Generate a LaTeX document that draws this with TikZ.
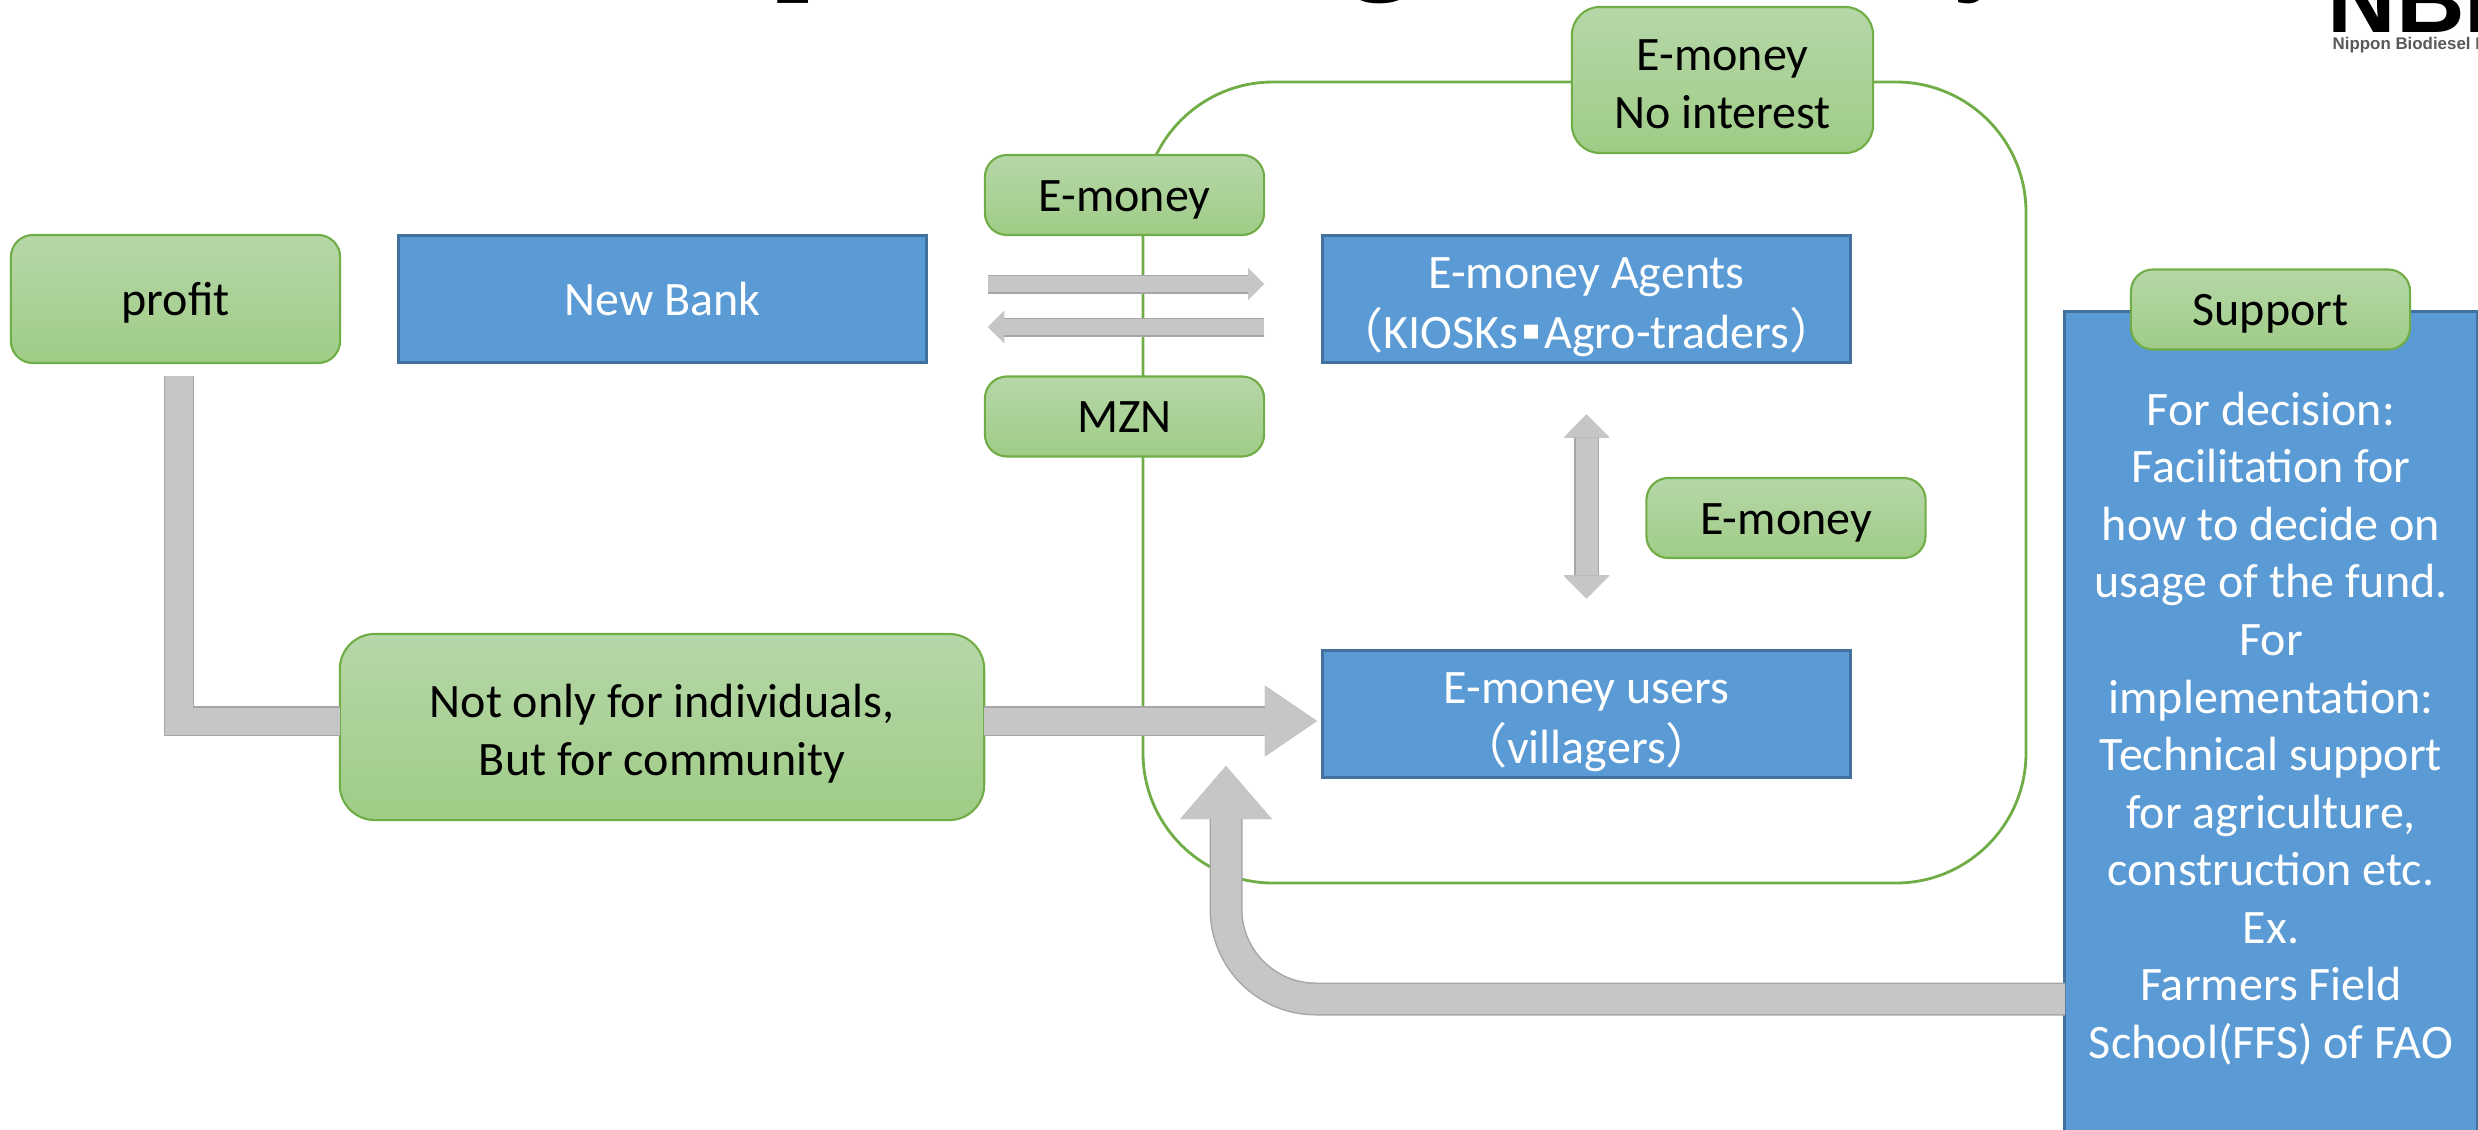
\documentclass[tikz,border=0pt]{standalone}
\usepackage{fontspec}
\usepackage{tikz}
\usetikzlibrary{arrows.meta}
\setmainfont{Carlito}
\newfontfamily\cjk{Noto Sans CJK JP}
\newfontfamily\titlefont{Liberation Serif}
\newfontfamily\logofont{Liberation Sans}
\newfontfamily\symfont{DejaVu Sans}
\newcommand{\firstline}{\rule{0pt}{0.535cm}}

\definecolor{greentop}{HTML}{B6D7A8}
\definecolor{greenbot}{HTML}{9FCC86}
\definecolor{greenline}{HTML}{70AD47}
\definecolor{bluefill}{HTML}{5B9BD5}
\definecolor{blueline}{HTML}{41719C}
\definecolor{arrowfill}{HTML}{C6C6C6}
\definecolor{arrowedge}{HTML}{A6A6A6}

\tikzset{
  bodytext/.style={font=\fontsize{13.66}{16.36}\selectfont, align=center, inner sep=0, outer sep=0,
    execute at begin node={\rule{0pt}{0.47cm}}, execute at end node={\rule[-0.15cm]{0pt}{0.15cm}}},
  greenbox/.style={bodytext, draw=greenline, line width=0.6pt, top color=greentop, bottom color=greenbot,
    rounded corners=0.22cm, minimum width=2.79cm, minimum height=0.8cm},
  bluebox/.style={bodytext, draw=blueline, line width=0.8pt, fill=bluefill, text=white,
    minimum width=5.28cm, minimum height=1.27cm},
  blockline/.style={draw=arrowfill, line width=#1, preaction={draw=arrowedge, line width=#1+0.03cm}},
  blockarrow/.style n args={3}{draw=arrowfill, line width=#1, -{Triangle[length=#2,width=#3,color=arrowfill,fill=arrowfill,line width=0pt]},
    preaction={draw=arrowedge, line width=#1+0.03cm, -{Triangle[length=#2,width=#3,color=arrowedge,fill=arrowedge,line width=0.03cm]}}},
  blockboth/.style n args={3}{draw=arrowfill, line width=#1,
    {Triangle[length=#2,width=#3,color=arrowfill,fill=arrowfill,line width=0pt]}-{Triangle[length=#2,width=#3,color=arrowfill,fill=arrowfill,line width=0pt]},
    preaction={draw=arrowedge, line width=#1+0.03cm,
    {Triangle[length=#2,width=#3,color=arrowedge,fill=arrowedge,line width=0.03cm]}-{Triangle[length=#2,width=#3,color=arrowedge,fill=arrowedge,line width=0.03cm]}}},
  titlebit/.style={font=\titlefont\fontsize{40}{40}\selectfont, anchor=base, inner sep=0}
}

\begin{document}
\begin{tikzpicture}[x=0.01cm,y=-0.01cm]
\useasboundingbox (0,0) rectangle (2478,1130);

% Title and logo, cut off by the page
\node[titlebit] (titlep) at (811,-27) {p};
\node[titlebit] (titleg) at (1382,-27) {g};
\node[titlebit] (titley) at (1991,-27) {y};
\node[font=\logofont\bfseries\fontsize{27}{27}\selectfont, anchor=base west, inner sep=0] (logo) at (2327,32) {NBF};
\node[font=\logofont\bfseries\fontsize{4.8}{5}\selectfont, text=black!65, anchor=base west, inner sep=0] (logotext) at (2332,49) {Nippon Biodiesel F};

% Loop of the fund
\draw[greenline, line width=0.8pt, rounded corners=1.3cm] (1143,82) rectangle (2026,883);

% Boxes
\node[greenbox, minimum width=3.29cm, minimum height=1.28cm] (profit) at (175.5,299) {profit};
\node[bluebox] (bank) at (662.5,299) {New Bank};
\node[greenbox] (moneyone) at (1124.5,195) {E-money};
\node[greenbox] (mzn) at (1124.5,416.5) {MZN};
\node[bluebox, inner ysep=-0.04cm] (agents) at (1586.5,299) {\firstline E-money Agents\\[0.02cm]{\cjk （}KIOSKs\makebox[0.55em]{\raisebox{0.09cm}{\symfont\footnotesize ▪}}Agro-traders{\cjk ）}};
\node[bluebox, inner ysep=-0.04cm] (users) at (1586.5,714) {\firstline E-money users\\[0.02cm]{\cjk （}villagers{\cjk ）}};
\node[greenbox, minimum width=3.01cm, minimum height=1.46cm, rounded corners=0.28cm] (interest) at (1722.5,80) {\firstline E-money\\No interest};
\node[greenbox, minimum width=6.44cm, minimum height=1.86cm, rounded corners=0.35cm] (community) at (662,727) {\firstline Not only for individuals,\\But for community};
\node[greenbox] (moneytwo) at (1786,518) {E-money};
\node[bluebox, minimum width=4.12cm, minimum height=8.21cm] (support) at (2271,722.5) {\firstline For decision:\\Facilitation for\\how to decide on\\usage of the fund.\\For\\implementation:\\Technical support\\for agriculture,\\construction etc.\\Ex.\\Farmers Field\\School(FFS) of FAO};
\node[greenbox] (supportlabel) at (2270.5,309.5) {Support};

% Free ends of the arrows
\coordinate (profitout) at (179,376);
\coordinate (communityin) at (340,721);
\coordinate (communityout) at (984,721);
\coordinate (usersin) at (1317,721);
\coordinate (supportout) at (2065,999);
\coordinate (loopin) at (1226,766);
\coordinate (swapleft) at (988,284);
\coordinate (swapright) at (1264,284);
\coordinate (backright) at (1264,327);
\coordinate (backleft) at (988,327);

% Arrows
\draw[blockline=0.27cm] (profitout) |- (communityin);
\draw[blockarrow={0.27cm}{0.52cm}{0.7cm}] (communityout) -- (usersin);
\draw[blockarrow={0.16cm}{0.16cm}{0.31cm}] (swapleft) -- (swapright);
\draw[blockarrow={0.16cm}{0.16cm}{0.31cm}] (backright) -- (backleft);
\draw[blockboth={0.22cm}{0.23cm}{0.45cm}, shorten <=0.52cm, shorten >=0.52cm] (agents) -- (users);
\draw[blockarrow={0.3cm}{0.53cm}{0.91cm}, rounded corners=0.9cm] (supportout) -| (loopin);

\end{tikzpicture}
\end{document}
